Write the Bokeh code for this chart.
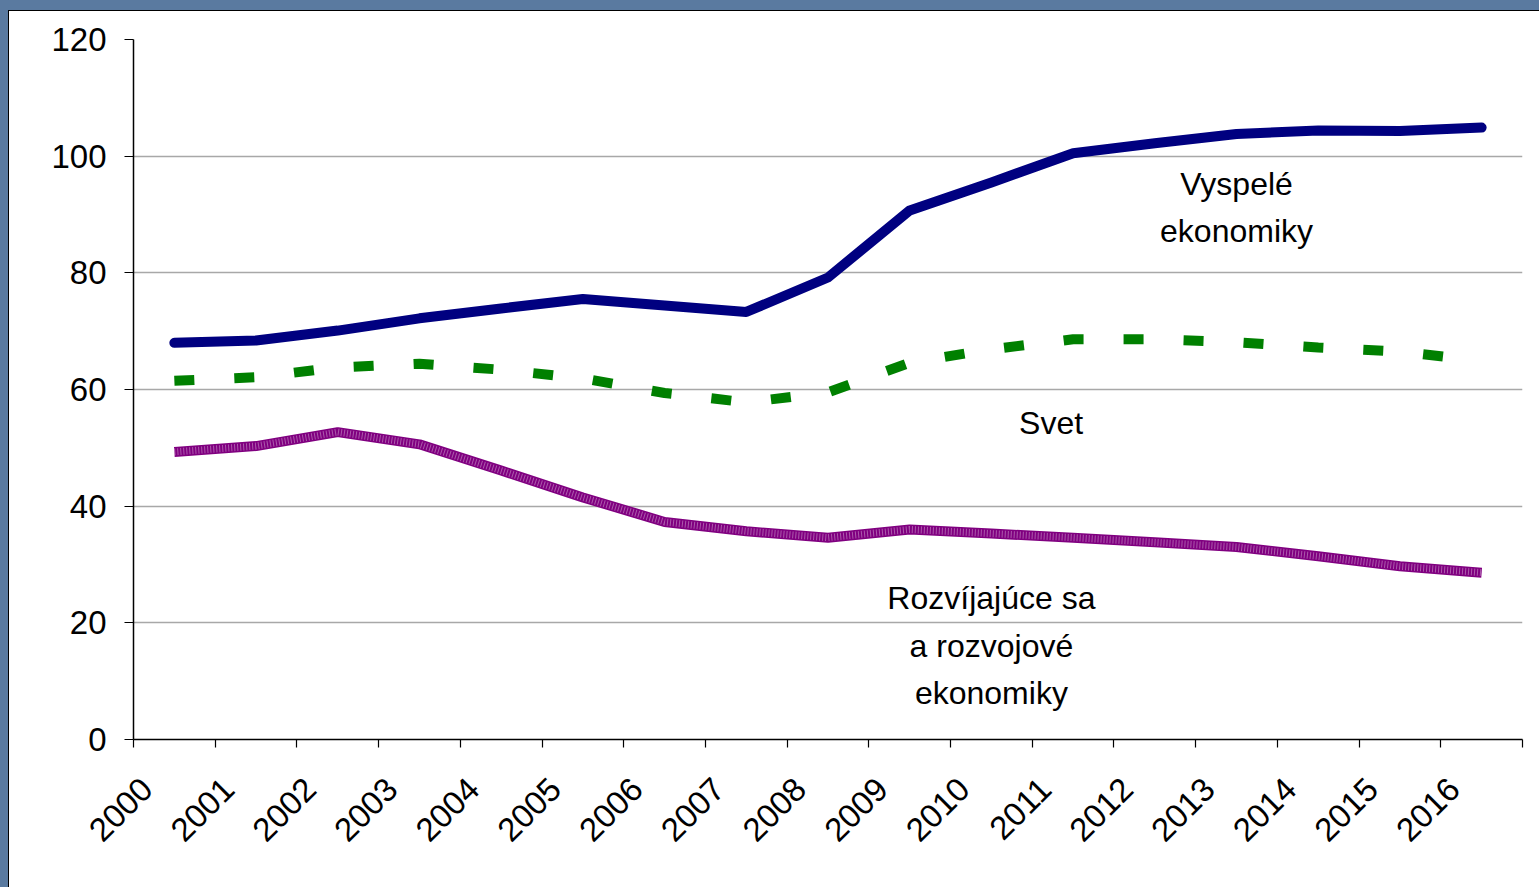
import numpy as np
from bokeh.plotting import figure
from bokeh.models import Range1d, FixedTicker, Label
from bokeh.embed import file_html
from bokeh.resources import INLINE

years = [str(y) for y in range(2000, 2017)]
vyspele = [68.0, 68.4, 70.1, 72.2, 73.9, 75.5, 74.4, 73.3, 79.2, 90.7, 95.5, 100.5, 102.2, 103.8, 104.4, 104.3, 104.9]
svet = [61.5, 62.1, 63.8, 64.4, 63.4, 61.9, 59.4, 57.8, 59.5, 64.6, 66.9, 68.6, 68.6, 68.1, 67.2, 66.5, 64.9]
rozvijajuce = [49.3, 50.3, 52.7, 50.6, 46.1, 41.5, 37.3, 35.7, 34.6, 36.0, 35.3, 34.6, 33.8, 33.0, 31.4, 29.7, 28.6]
y_ticks = [0, 20, 40, 60, 80, 100, 120]

# annotation texts with (x index, y value) anchors
notes = ["Vyspelé", "ekonomiky", "Svet", "Rozvíjajúce sa", "a rozvojové", "ekonomiky"]
notes_x = [13.0, 13.0, 10.73, 10.0, 10.0, 10.0]
notes_y = [95.3, 87.2, 54.2, 24.3, 16.1, 7.9]

FONT = "Liberation Sans"
x = np.arange(len(years))
label_shift = -0.34  # rotated year labels sit left of the category centre

p = figure(frame_width=1389, frame_height=700,
           min_border_left=133, min_border_right=17, min_border_top=39, min_border_bottom=148,
           x_range=Range1d(-0.5, len(years) - 0.5), y_range=Range1d(0, 120),
           output_backend="svg", toolbar_location=None,
           background_fill_color="white", border_fill_color=None)
p.outline_line_color = None
p.styles = {
    "background": ("linear-gradient(#000,#000) 8px 10px / 100% 1px no-repeat, "
                   "linear-gradient(#000,#000) 8px 10px / 1px 100% no-repeat, "
                   "linear-gradient(#fff,#fff) 8px 10px / 100% 100% no-repeat, "
                   "#5a7aa0")
}

# x axis: labels near category centres, tick marks at category boundaries
lab_pos = [float(i) + label_shift for i in x]
p.xaxis.ticker = FixedTicker(ticks=lab_pos, minor_ticks=[i - 0.5 for i in range(len(years) + 1)])
p.xaxis.major_label_overrides = {lp: years[i] for i, lp in enumerate(lab_pos)}
p.xaxis.major_tick_line_color = None
p.xaxis.minor_tick_out = 8
p.xaxis.minor_tick_in = 0
p.xaxis.minor_tick_line_color = "black"
p.xaxis.minor_tick_line_width = 1.2
p.xaxis.axis_line_color = "black"
p.xaxis.axis_line_width = 1.5
p.xaxis.major_label_orientation = np.pi / 4
p.xaxis.major_label_text_font = FONT
p.xaxis.major_label_text_font_size = "33px"
p.xaxis.major_label_text_color = "black"
p.xaxis.major_label_standoff = 36

p.yaxis.ticker = FixedTicker(ticks=y_ticks)
p.yaxis.major_tick_out = 9
p.yaxis.major_tick_in = 0
p.yaxis.major_tick_line_color = "black"
p.yaxis.major_tick_line_width = 1.2
p.yaxis.minor_tick_line_color = None
p.yaxis.axis_line_color = "black"
p.yaxis.axis_line_width = 1.5
p.yaxis.major_label_text_font = FONT
p.yaxis.major_label_text_font_size = "33px"
p.yaxis.major_label_text_color = "black"
p.yaxis.major_label_standoff = 18

p.xgrid.visible = False
p.ygrid.ticker = FixedTicker(ticks=y_ticks)
p.ygrid.grid_line_color = "#a8a8a8"
p.ygrid.grid_line_width = 1.5

# series
p.line(x, rozvijajuce, line_color="#800080", line_width=10)
p.line(x, rozvijajuce, line_color="white", line_width=7, line_alpha=0.35, line_dash="1 2")
p.line(x, svet, line_color="#008000", line_width=10, line_dash="20 40", line_cap="butt")
p.line(x, vyspele, line_color="#000080", line_width=10, line_cap="round", line_join="round")

for t, tx, ty in zip(notes, notes_x, notes_y):
    p.add_layout(Label(x=tx, y=ty, text=t, text_align="center", text_baseline="middle",
                       text_font=FONT, text_font_size="32px", text_color="black"))

open("out.html", "w").write(file_html(p, INLINE))
